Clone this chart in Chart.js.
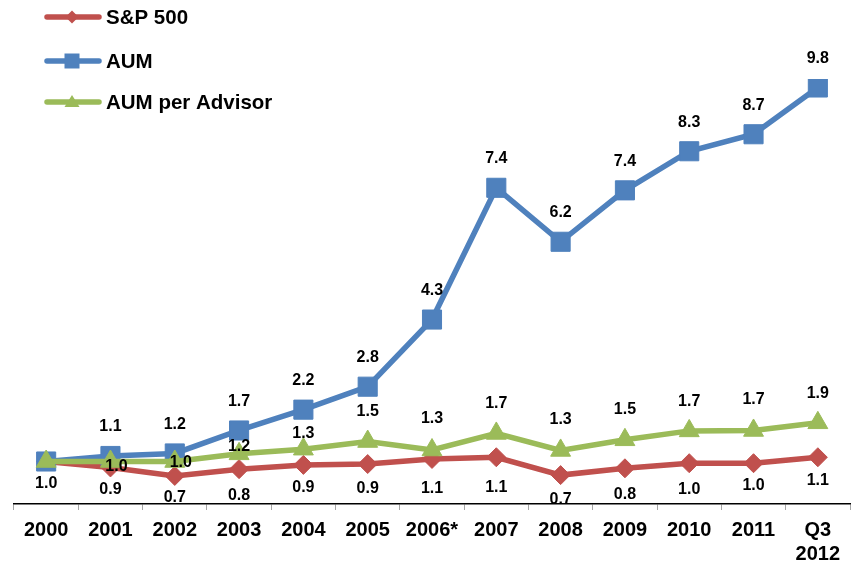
<!DOCTYPE html>
<html><head><meta charset="utf-8">
<script src="https://cdn.jsdelivr.net/npm/chart.js@4/dist/chart.umd.min.js"></script>
<style>html,body{margin:0;padding:0;background:#fff}</style>
</head><body>
<canvas id="c" width="856" height="565"></canvas>
<script>
// ---- data ----
const categories = ['2000','2001','2002','2003','2004','2005','2006*','2007','2008','2009','2010','2011',['Q3','2012']];
const sp500 =        [1.00, 0.86, 0.66, 0.82, 0.92, 0.94, 1.06, 1.10, 0.68, 0.84, 0.96, 0.96, 1.10];
const aum =          [1.00, 1.13, 1.19, 1.73, 2.22, 2.76, 4.34, 7.44, 6.17, 7.38, 8.30, 8.70, 9.80];
const aumPerAdvisor =[1.00, 1.00, 1.00, 1.18, 1.29, 1.47, 1.27, 1.66, 1.26, 1.51, 1.72, 1.73, 1.91];
const seriesNames = ['S&P 500','AUM','AUM per Advisor'];

// ---- styles ----
const FONT = "'Liberation Sans', Arial, sans-serif";
const RED = '#C0504D', BLUE = '#4F81BD', GREEN = '#9BBB59';
// label placement (pixels relative to the point)
const spLabelShift = [22,22,22,26,23,25,30,30,24,26,26,22,23];
const advLabelShift = [null,5,1,-7,-16,-30,-31,-30,-31,-30,-29,-31,-29];
const advLabelDx = [0,6,6,0,0,0,0,0,0,0,0,0,0];

const labelPlugin = {
  id: 'valueLabels',
  afterDatasetsDraw(chart) {
    const ctx = chart.ctx;
    ctx.save();
    ctx.font = "bold 16px " + FONT;
    ctx.fillStyle = '#000';
    ctx.textAlign = 'center';
    ctx.textBaseline = 'middle';
    chart.data.datasets.forEach((ds, di) => {
      const meta = chart.getDatasetMeta(di);
      meta.data.forEach((pt, i) => {
        const v = ds.data[i];
        const txt = v.toFixed(1);
        let dx = 0, dy;
        if (ds.key === 'sp') dy = spLabelShift[i];
        else if (ds.key === 'aum') { if (i === 0) return; dy = -29; }
        else { if (advLabelShift[i] === null) return; dy = advLabelShift[i]; dx = advLabelDx[i]; }
        ctx.fillText(txt, pt.x + dx, pt.y + dy);
      });
    });
    ctx.restore();
  },
  afterDraw(chart) {
    // legend
    const ctx = chart.ctx;
    const items = [
      {name: seriesNames[0], color: RED, shape: 'diamond', y: 17},
      {name: seriesNames[1], color: BLUE, shape: 'square', y: 61},
      {name: seriesNames[2], color: GREEN, shape: 'triangle', y: 102}
    ];
    ctx.save();
    items.forEach(it => {
      ctx.strokeStyle = it.color;
      ctx.lineWidth = 5.5;
      ctx.lineCap = 'round';
      ctx.beginPath();
      ctx.moveTo(47, it.y); ctx.lineTo(99, it.y); ctx.stroke();
      ctx.fillStyle = it.color;
      const cx = 72, cy = it.y;
      ctx.beginPath();
      if (it.shape === 'diamond') {
        ctx.moveTo(cx, cy - 6.5); ctx.lineTo(cx + 6.5, cy); ctx.lineTo(cx, cy + 6.5); ctx.lineTo(cx - 6.5, cy);
      } else if (it.shape === 'square') {
        ctx.rect(cx - 7.5, cy - 7.5, 15, 15);
      } else {
        ctx.moveTo(cx, cy - 7); ctx.lineTo(cx + 7.5, cy + 5); ctx.lineTo(cx - 7.5, cy + 5);
      }
      ctx.closePath(); ctx.fill();
      ctx.fillStyle = '#000';
      ctx.font = "bold 20.5px " + FONT;
      ctx.textAlign = 'left';
      ctx.textBaseline = 'middle';
      ctx.fillText(it.name, 106, it.y + 1);
    });
    ctx.restore();
  }
};

new Chart(document.getElementById('c'), {
  type: 'line',
  data: {
    labels: categories,
    datasets: [
      {key:'sp', label: seriesNames[0], data: sp500, borderColor: RED, backgroundColor: RED,
       pointBackgroundColor: RED, pointBorderColor: RED, pointBorderWidth: 1,
       pointStyle: 'rectRot', pointRadius: 9.5, borderWidth: 5.5, tension: 0, order: 2},
      {key:'aum', label: seriesNames[1], data: aum, borderColor: BLUE, backgroundColor: BLUE,
       pointBackgroundColor: BLUE, pointBorderColor: BLUE, pointBorderWidth: 1,
       pointStyle: 'rect', pointRadius: 13.5, borderWidth: 5.5, tension: 0, order: 1},
      {key:'adv', label: seriesNames[2], data: aumPerAdvisor, borderColor: GREEN, backgroundColor: GREEN,
       pointBackgroundColor: GREEN, pointBorderColor: GREEN, pointBorderWidth: 1,
       pointStyle: 'triangle', pointRadius: 11.5, borderWidth: 5.5, tension: 0, order: 0}
    ]
  },
  options: {
    responsive: false,
    devicePixelRatio: 1,
    animation: false,
    layout: {autoPadding: false, padding: {top: 79, left: 14, right: 6, bottom: 0}},
    plugins: {legend: {display: false}, tooltip: {enabled: false}},
    scales: {
      x: {
        offset: true,
        grid: {display: true, drawOnChartArea: false, drawTicks: true, tickLength: 6, color: '#a6a6a6', offset: true},
        border: {display: true, color: '#000', width: 1.5},
        ticks: {color: '#000', font: {family: FONT, size: 20, weight: 'bold'}, padding: 8, maxRotation: 0, autoSkip: false},
        afterFit(s) { s.height = 61; }
      },
      y: {display: false, min: 0, max: 10}
    }
  },
  plugins: [labelPlugin]
});
</script>
</body></html>
